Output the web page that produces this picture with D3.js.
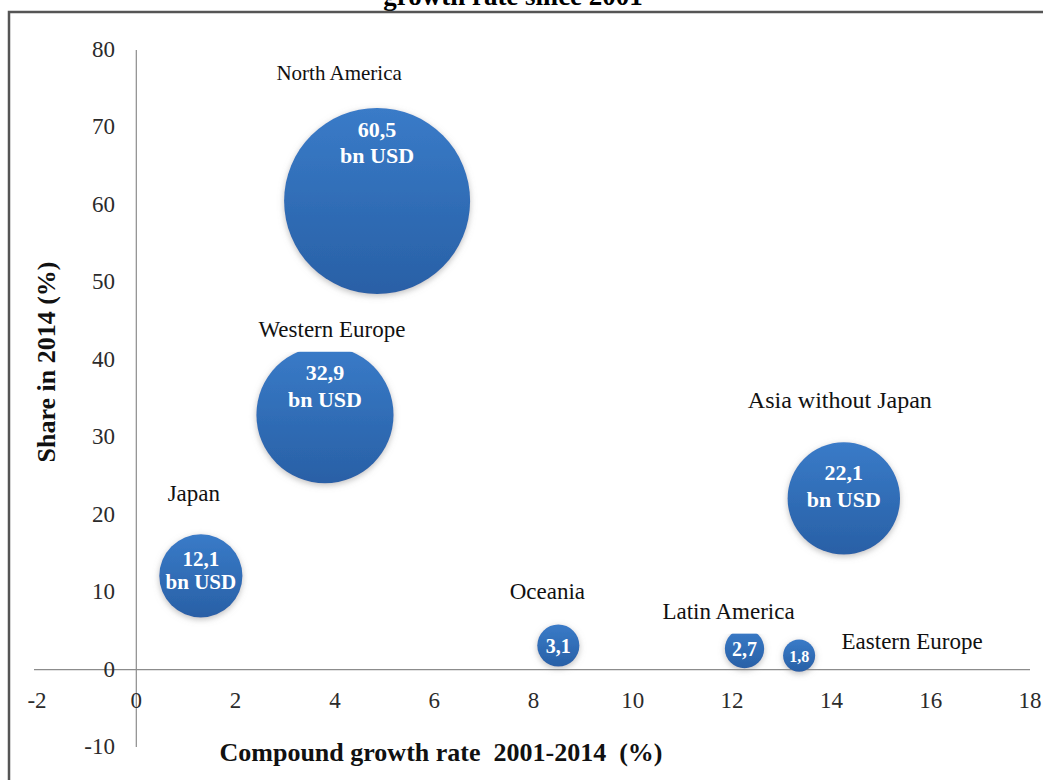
<!DOCTYPE html>
<html>
<head>
<meta charset="utf-8">
<style>
body { margin: 0; background: #fff; }
svg { display: block; font-family: "Liberation Serif", "Times New Roman", serif; }
.tick-label { font-size: 23px; fill: #2b2b2b; }
.name { fill: #111; }
.axis-title { font-size: 26px; font-weight: bold; fill: #111; }
.val { font-weight: bold; fill: #fff; }
</style>
</head>
<body>
<svg id="svg"></svg>
<script src="https://cdnjs.cloudflare.com/ajax/libs/d3/7.8.5/d3.min.js"></script>
<script>
// data
var regions = ['North America', 'Western Europe', 'Japan', 'Asia without Japan', 'Oceania', 'Latin America', 'Eastern Europe']
var growth = [4.85, 3.8, 1.3, 14.25, 8.5, 12.25, 13.35]   // x: compound growth 2001-2014 (%)
var share = [60.5, 32.9, 12.1, 22.1, 3.1, 2.7, 1.8]        // y: share in 2014 (%)
var sizeBn = [60.5, 32.9, 12.1, 22.1, 3.1, 2.7, 1.8]       // bubble size, bn USD
var valueText = ['60,5', '32,9', '12,1', '22,1', '3,1', '2,7', '1,8']
var xTicks = [-2, 0, 2, 4, 6, 8, 10, 12, 14, 16, 18]
var yTicks = [-10, 0, 10, 20, 30, 40, 50, 60, 70, 80]

// label placement (pixels, relative to bubble centre) and sizes
var nameNudge = [[-38, -121], [7, -78], [-7, -75], [-4, -90], [-11, -47], [-16, -30], [113, -7]]
var nameSize = [21, 23, 23, 24, 23, 23, 23]
var valueNudge = [[-64, -38], [-35, -8], [-10, 13], [-18, 9], [7], [7], [6]]
var valueSize = [22, 22, 21, 22, 20, 20, 16]

var W = 1043, H = 780
var svg = d3.select('svg').attr('width', W).attr('height', H)

var x = d3.scaleLinear().domain([-2, 18]).range([37, 1030])
var y = d3.scaleLinear().domain([-10, 80]).range([747, 50])
var r = d3.scaleSqrt().domain([0, 60.5]).range([0, 93])

var defs = svg.append('defs')
var grad = defs.append('linearGradient').attr('id', 'bub').attr('x1', 0).attr('y1', 0).attr('x2', 0).attr('y2', 1)
grad.append('stop').attr('offset', '0%').attr('stop-color', '#3a7bc8')
grad.append('stop').attr('offset', '55%').attr('stop-color', '#2f6cb5')
grad.append('stop').attr('offset', '100%').attr('stop-color', '#2a60a6')
var f = defs.append('filter').attr('id', 'shadow').attr('x', '-30%').attr('y', '-30%').attr('width', '160%').attr('height', '160%')
f.append('feDropShadow').attr('dx', 0).attr('dy', 2).attr('stdDeviation', 3)
  .attr('flood-color', '#8a8a8a').attr('flood-opacity', 0.55)

// title, mostly cut off at the top (as in the source image)
svg.append('text')
  .attr('x', 513).attr('y', 5)
  .attr('text-anchor', 'middle')
  .style('font-size', '27px').style('font-weight', 'bold')
  .text('growth rate since 2001')

// frame
svg.append('rect')
  .attr('x', 9).attr('y', 12)
  .attr('width', 1060).attr('height', 800)
  .attr('fill', 'none').attr('stroke', '#555').attr('stroke-width', 2.5)

// axis lines through zero
svg.append('line')
  .attr('x1', x(-2) - 3).attr('x2', x(18))
  .attr('y1', y(0)).attr('y2', y(0))
  .attr('stroke', '#8c8c8c').attr('stroke-width', 1.2)
svg.append('line')
  .attr('x1', x(0)).attr('x2', x(0))
  .attr('y1', y(80)).attr('y2', y(-10))
  .attr('stroke', '#8c8c8c').attr('stroke-width', 1.2)

// tick labels
svg.selectAll('.xt')
  .data(xTicks).enter()
  .append('text')
  .attr('class', 'tick-label')
  .attr('x', d => x(d))
  .attr('y', y(0) + 38)
  .attr('text-anchor', 'middle')
  .text(d => d)
svg.selectAll('.yt')
  .data(yTicks).enter()
  .append('text')
  .attr('class', 'tick-label')
  .attr('x', 115)
  .attr('y', d => y(d) + 7)
  .attr('text-anchor', 'end')
  .text(d => d)

// axis titles
svg.append('text')
  .attr('class', 'axis-title')
  .attr('x', 441).attr('y', 761)
  .attr('text-anchor', 'middle')
  .style('white-space', 'pre')
  .text('Compound growth rate  2001-2014  (%)')
svg.append('text')
  .attr('class', 'axis-title')
  .attr('transform', 'translate(55,362) rotate(-90)')
  .attr('text-anchor', 'middle')
  .text('Share in 2014 (%)')

var idx = d3.range(regions.length)

// bubbles
svg.selectAll('.bubble')
  .data(idx).enter()
  .append('circle')
  .attr('class', 'bubble')
  .attr('cx', i => x(growth[i]))
  .attr('cy', i => y(share[i]))
  .attr('r', i => r(sizeBn[i]))
  .attr('fill', 'url(#bub)')
  .attr('filter', 'url(#shadow)')

// value labels inside the bubbles
idx.forEach(function(i) {
  var cx = x(growth[i]), cy = y(share[i])
  var t = svg.append('text')
    .attr('class', 'val')
    .attr('text-anchor', 'middle')
    .style('font-size', valueSize[i] + 'px')
  if (valueNudge[i].length == 2) {
    t.append('tspan').attr('x', cx).attr('y', cy + valueNudge[i][0]).text(valueText[i])
    t.append('tspan').attr('x', cx).attr('y', cy + valueNudge[i][1]).text('bn USD')
  } else {
    t.attr('x', cx).attr('y', cy + valueNudge[i][0]).text(valueText[i])
  }
})

// region names, white box behind each (clips bubble tops like the original)
idx.forEach(function(i) {
  var lx = x(growth[i]) + nameNudge[i][0], ly = y(share[i]) + nameNudge[i][1]
  var g = svg.append('g')
  var t = g.append('text')
    .attr('class', 'name')
    .attr('x', lx).attr('y', ly)
    .attr('text-anchor', 'middle')
    .style('font-size', nameSize[i] + 'px')
    .text(regions[i])
  var bb = t.node().getBBox()
  g.insert('rect', 'text')
    .attr('x', bb.x - 4).attr('y', bb.y - 3)
    .attr('width', bb.width + 8).attr('height', bb.height + 13)
    .attr('fill', '#fff')
})
</script>
</body>
</html>
